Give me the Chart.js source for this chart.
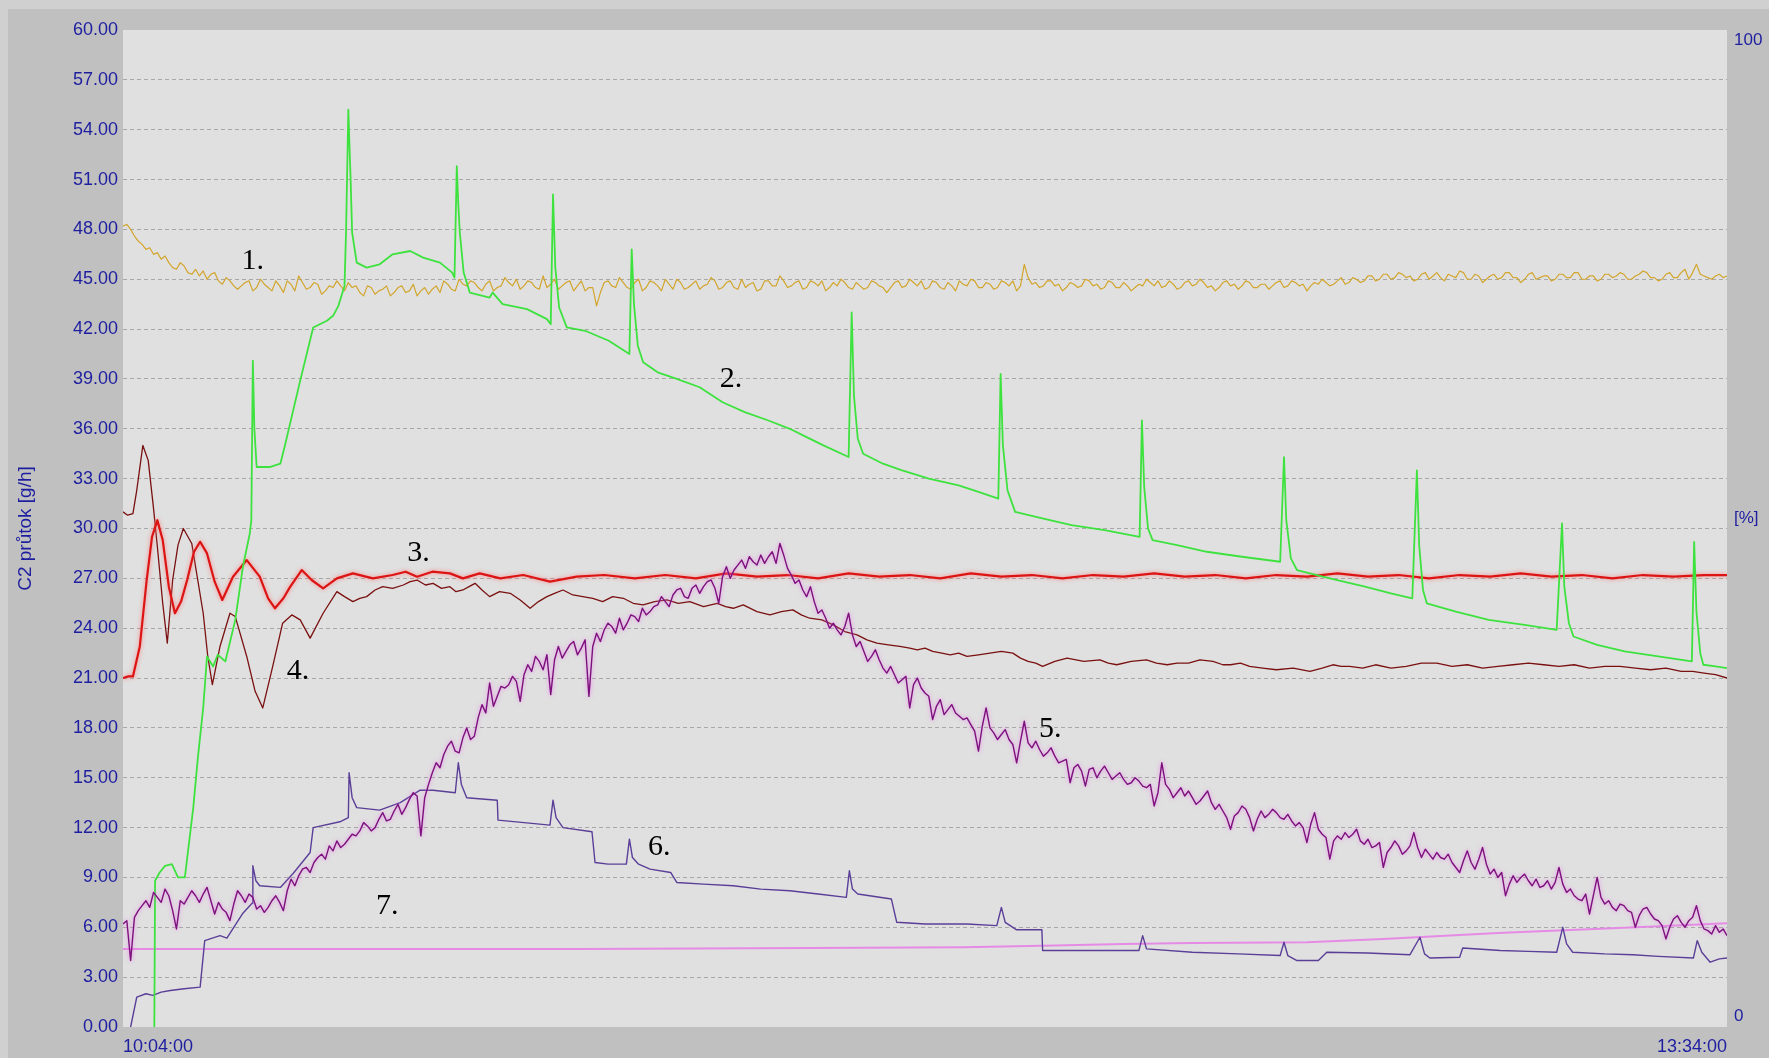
<!DOCTYPE html>
<html>
<head>
<meta charset="utf-8">
<title>C2 průtok</title>
<script src="https://cdn.jsdelivr.net/npm/chart.js@4.4.1/dist/chart.umd.min.js"></script>
<style>
  html, body { margin: 0; padding: 0; background: #c0c0c0; }
  #wrap { width: 1769px; height: 1058px; position: relative; }
</style>
</head>
<body>
<div id="wrap"><canvas id="c"></canvas></div>
<script>
// Time axis: minutes after 10:04:00 (run ends at 13:34:00)
const xTickValues = [0, 210];
const xTickLabels = ['10:04:00', '13:34:00'];

// Right axis [%]
const rightTickValues = [0, 50, 100];
const rightTickLabels = [['0', ''], ['[%]', ''], ['', '100']];

// Evenly sampled channels: one sample on each minute plus one on each half minute
const SAMPLE_STEP = 1;

// 1. (ochre) - samples on the minute
const goldOnMinute = [
  48.2, 48.0, 47.3, 46.8, 46.5, 46.2, 46.0, 45.6, 45.8, 45.3, 45.2, 45.0, 45.4, 44.7, 44.9, 44.4,
  44.8, 44.3, 45.0, 44.5, 44.9, 44.2, 44.7, 45.2, 44.4, 44.8, 44.1, 44.6, 44.9, 44.3, 44.5,
  44.2, 44.6, 44.1, 44.4, 44.0, 44.5, 44.2, 44.7, 44.3, 44.1, 44.6, 44.9, 44.4, 45.0, 44.6,
  44.8, 44.3, 44.9, 44.5, 45.1, 44.6, 44.4, 44.9, 44.5, 45.2, 44.7, 44.4, 44.8, 44.3, 44.9,
  44.5, 43.4, 44.8, 44.6, 45.1, 44.5, 44.8, 44.3, 44.9, 44.6, 45.0, 44.4, 44.8, 44.5, 44.9,
  44.6, 45.1, 44.4, 44.8, 44.5, 45.0, 44.7, 44.3, 44.9, 44.6, 45.2, 44.5, 44.8, 44.4, 44.9,
  44.6, 44.3, 44.8, 45.0, 44.5, 44.8, 44.4, 44.9, 44.6, 44.2, 44.8, 44.5, 45.0, 44.6, 44.4,
  44.9, 44.5, 44.8, 44.3, 44.7, 45.0, 44.5, 44.8, 44.4, 44.9, 44.6, 44.3, 45.9, 44.7, 44.5,
  44.9, 44.6, 44.3, 44.8, 44.5, 45.0, 44.6, 44.4, 44.9, 44.5, 44.8, 44.3, 44.7, 45.0, 44.6,
  44.5, 44.9, 44.4, 44.8, 44.6, 45.0, 44.5, 44.3, 44.8, 44.6, 44.4, 44.9, 44.5, 44.7, 44.4,
  44.8, 44.5, 44.9, 44.6, 44.3, 44.8, 45.0, 44.6, 44.9, 44.7, 45.1, 44.8, 45.2, 44.9, 45.3,
  45.0, 45.4, 45.1, 44.9, 45.3, 45.0, 45.4, 44.9, 45.2, 45.5, 45.0, 45.3, 44.8, 45.2, 45.0,
  45.4, 45.1, 44.8, 45.3, 45.0, 45.2, 44.9, 45.3, 45.1, 45.4, 45.0, 45.2, 44.9, 45.3, 45.1,
  45.4, 45.0, 45.2, 45.5, 45.1, 44.9, 45.3, 45.1, 45.4, 45.0, 45.9, 45.2, 45.0, 45.3, 45.2
];
// 1. (ochre) - samples on the half minute
const goldOnHalf = [
  48.3, 47.6, 47.1, 46.9, 46.6, 46.4, 45.7, 46.0, 45.4, 45.6, 45.5, 45.3, 44.9, 45.1, 44.6,
  44.6, 44.9, 44.5, 44.7, 44.3, 44.6, 44.9, 44.3, 44.8, 44.5, 44.7, 44.3, 44.5, 44.6, 44.8,
  44.6, 44.0, 44.5, 44.3, 44.6, 44.2, 44.6, 44.3, 44.0, 44.5, 44.4, 44.2, 44.7, 44.3, 44.7,
  44.9, 44.5, 44.7, 44.3, 44.6, 44.8, 45.0, 44.6, 44.8, 44.4, 44.5, 45.0, 44.6, 44.9, 44.6,
  44.3, 44.5, 44.2, 44.9, 44.5, 44.8, 44.4, 45.0, 44.5, 44.8, 44.3, 44.7, 45.0, 44.4, 44.7,
  44.4, 44.7, 44.9, 44.5, 44.9, 44.4, 44.5, 44.8, 44.4, 44.9, 44.6, 44.9, 44.6, 44.9, 44.5,
  44.8, 44.9, 44.5, 44.6, 44.8, 44.4, 44.6, 44.5, 44.8, 44.5, 44.5, 44.9, 44.6, 44.8, 44.9,
  44.5, 44.8, 44.4, 44.6, 44.9, 44.6, 44.9, 44.5, 44.7, 44.5, 44.8, 44.9, 44.6, 45.1, 44.8,
  44.6, 44.9, 44.7, 44.5, 44.7, 44.6, 44.9, 44.7, 44.5, 44.8, 44.5, 44.6, 44.5, 44.6, 44.8,
  44.9, 44.6, 44.7, 44.5, 44.9, 44.7, 44.8, 44.6, 44.5, 44.9, 44.7, 44.6, 44.8, 44.5, 44.7,
  44.6, 44.9, 44.6, 44.8, 44.7, 44.6, 44.7, 44.8, 44.7, 45.1, 44.8, 45.0, 44.9, 45.2, 45.0,
  45.3, 45.1, 45.3, 45.2, 45.0, 45.4, 45.2, 45.1, 45.3, 45.1, 45.4, 45.0, 45.2, 45.0, 45.3,
  45.1, 45.4, 45.1, 45.0, 45.4, 45.1, 45.2, 45.0, 45.3, 45.1, 45.4, 45.0, 45.2, 45.0, 45.3,
  45.2, 45.3, 45.0, 45.3, 45.4, 45.1, 45.0, 45.4, 45.1, 45.6, 45.4, 45.3, 45.1, 45.2, 45.1
];

// 5. (purple) - samples on the minute
const purpleOnMinute = [
  6.2, 4.0, 7.0, 7.6, 8.1, 7.5, 7.9, 5.9, 7.4, 8.2,
  7.5, 8.4, 6.8, 7.1, 6.4, 8.2, 7.5, 7.8, 7.3, 7.2,
  7.9, 7.0, 8.9, 9.1, 9.6, 9.9, 10.4, 10.9, 11.2, 11.0,
  11.6, 11.8, 12.1, 12.0, 12.9, 12.5, 13.4, 13.2, 14.1, 11.5,
  14.6, 15.9, 16.4, 17.2, 16.5, 18.0, 17.5, 19.4, 20.7, 19.9,
  20.4, 21.1, 19.6, 21.8, 22.3, 21.5, 20.0, 22.9, 22.6, 23.2,
  22.8, 19.9, 23.7, 23.9, 24.1, 24.6, 24.3, 24.7, 25.2, 25.0,
  25.4, 25.6, 26.0, 26.4, 25.8, 26.6, 26.5, 26.9, 25.5, 27.7,
  27.5, 28.1, 28.3, 27.8, 27.9, 28.6, 29.1, 27.6, 26.7, 26.3,
  26.5, 24.9, 24.6, 24.3, 23.6, 24.9, 22.9, 22.6, 22.3, 22.1,
  21.3, 21.2, 20.9, 19.2, 21.0, 20.1, 18.5, 19.7, 19.1, 18.9,
  18.5, 18.2, 16.6, 19.2, 17.7, 17.6, 17.3, 15.9, 18.4, 16.8,
  16.7, 16.5, 16.3, 16.0, 14.7, 15.8, 14.5, 15.6, 15.4, 15.3,
  15.1, 14.9, 14.7, 14.8, 14.4, 13.3, 15.9, 14.3, 14.1, 13.9,
  13.8, 13.6, 14.2, 13.1, 13.0, 11.9, 12.9, 13.1, 11.8, 13.0,
  12.8, 12.9, 12.5, 12.4, 12.3, 11.1, 12.9, 11.6, 10.1, 11.5,
  11.7, 11.6, 11.2, 11.3, 10.9, 9.6, 10.8, 10.9, 10.6, 11.7,
  10.2, 10.4, 10.5, 10.1, 9.9, 9.3, 10.6, 9.5, 10.8, 9.2,
  9.0, 7.9, 9.1, 9.0, 8.8, 8.9, 8.5, 8.3, 9.6, 8.1,
  7.9, 7.6, 6.8, 9.0, 7.4, 7.2, 7.4, 7.0, 6.0, 7.1,
  6.8, 6.4, 5.3, 6.5, 6.3, 6.4, 7.3, 5.9, 5.6, 5.7,
  5.5
];
// 5. (purple) - samples on the half minute
const purpleOnHalf = [
  6.4, 6.6, 7.3, 7.2, 7.8, 8.3, 7.0, 7.6, 7.8, 7.9,
  8.0, 7.6, 7.5, 6.9, 7.4, 7.9, 8.0, 7.1, 6.9, 7.6,
  7.5, 8.2, 8.5, 9.5, 9.3, 10.2, 10.1, 10.6, 10.8, 11.3,
  11.5, 12.3, 11.8, 12.5, 12.4, 13.0, 12.8, 13.7, 13.9, 13.8,
  15.3, 15.6, 16.9, 16.6, 17.4, 17.3, 18.6, 18.9, 19.3, 20.5,
  20.6, 20.8, 21.2, 21.4, 22.0, 22.4, 22.1, 22.2, 23.0, 22.4,
  23.3, 22.9, 23.2, 24.3, 23.7, 23.9, 24.8, 24.4, 24.8, 25.3,
  25.9, 25.3, 26.3, 25.9, 26.4, 26.1, 26.8, 26.4, 27.1, 27.0,
  27.8, 27.6, 28.0, 28.4, 28.3, 27.9, 28.4, 27.2, 26.9, 25.9,
  25.6, 25.1, 24.0, 23.9, 24.1, 23.6, 23.2, 22.0, 22.7, 21.6,
  21.7, 20.7, 21.1, 20.6, 20.4, 19.9, 19.3, 18.8, 19.4, 18.7,
  18.6, 17.8, 18.1, 18.0, 17.3, 17.9, 17.0, 17.2, 17.1, 17.2,
  16.3, 16.8, 15.9, 16.1, 15.6, 15.4, 15.5, 15.0, 15.7, 14.9,
  15.3, 14.6, 15.0, 14.5, 14.6, 14.1, 14.6, 13.8, 14.4, 14.2,
  13.4, 13.9, 13.5, 13.4, 12.6, 12.7, 13.3, 12.6, 12.5, 12.6,
  13.1, 12.6, 12.8, 12.1, 12.0, 12.2, 11.9, 11.4, 11.2, 11.3,
  11.4, 11.9, 11.0, 10.8, 11.1, 10.5, 11.2, 10.4, 10.9, 10.8,
  10.7, 10.1, 10.2, 10.4, 9.6, 10.0, 9.9, 10.1, 9.8, 9.5,
  9.3, 8.6, 8.7, 9.2, 8.5, 8.4, 8.8, 8.7, 8.6, 8.3,
  7.7, 8.0, 7.9, 7.8, 7.6, 7.0, 7.3, 6.9, 6.7, 7.2,
  6.5, 6.1, 6.0, 6.7, 6.0, 6.6, 6.4, 5.8, 6.1, 5.9
];

// 2. (green)
const greenTimes = [
  4.1, 4.2, 4.8, 5.5, 6.4, 7.2, 8.1, 9.2, 9.8, 10.5, 11.0, 11.8, 12.4, 13.4, 14.7, 15.7, 16.6, 16.8,
  17.0, 17.2, 17.5, 19.2, 20.6, 21.2, 23.2, 24.9, 26.7, 27.5, 28.2, 29.0, 29.2, 29.5, 29.8, 30.0,
  30.6, 31.9, 33.6, 35.3, 37.6, 39.3, 41.5, 43.1, 43.4, 43.7, 43.9, 44.1, 44.6, 45.4, 48.0, 48.4,
  49.7, 52.9, 55.5, 56.0, 56.3, 56.6, 57.1, 58.1, 60.5, 63.6, 66.3, 66.6, 66.9, 67.4, 68.1, 70.0,
  72.5, 75.5, 78.5, 81.4, 84.5, 87.3, 89.5, 91.7, 95.0, 95.4, 95.7, 96.2, 96.9, 99.5, 102.0, 105.5,
  109.4, 112.0, 114.6, 114.9, 115.2, 115.8, 116.8, 120.5, 124.2, 128.5, 133.1, 133.4, 133.7, 134.2,
  134.8, 138.0, 141.9, 146.5, 151.5, 152.0, 152.3, 152.9, 153.7, 158.0, 162.6, 166.0, 168.8, 169.4,
  169.7, 170.2, 170.7, 174.5, 178.8, 183.5, 187.7, 188.4, 188.7, 189.3, 189.9, 193.0, 196.6, 201.0,
  205.4, 205.7, 206.0, 206.5, 206.9, 208.5, 210.0
];
const greenValues = [
  0.0, 8.8, 9.3, 9.7, 9.8, 9.0, 9.0, 13.2, 16.2, 19.2, 22.3, 21.7, 22.4, 22.0, 24.5, 27.7, 29.7, 30.5,
  40.1, 36.0, 33.7, 33.7, 33.9, 35.0, 38.9, 42.1, 42.5, 42.8, 43.4, 44.6, 47.8, 55.2, 51.0, 47.8,
  46.0, 45.7, 45.9, 46.5, 46.7, 46.3, 46.0, 45.4, 45.1, 51.8, 49.5, 47.8, 45.4, 44.2, 43.9, 44.2,
  43.5, 43.2, 42.6, 42.3, 50.1, 45.7, 43.3, 42.1, 41.9, 41.3, 40.5, 46.8, 43.5, 41.0, 40.0, 39.4,
  39.0, 38.5, 37.6, 37.0, 36.5, 36.0, 35.5, 35.0, 34.3, 43.0, 38.0, 35.4, 34.5, 33.9, 33.5, 33.0,
  32.6, 32.2, 31.8, 39.3, 35.0, 32.3, 31.0, 30.6, 30.2, 29.9, 29.5, 36.5, 32.5, 30.0,
  29.3, 29.0, 28.6, 28.3, 28.0, 34.3, 30.5, 28.2, 27.5, 27.0, 26.5, 26.1, 25.8, 33.5,
  29.0, 26.3, 25.5, 25.0, 24.5, 24.2, 23.9, 30.3, 26.5, 24.3, 23.5, 23.0, 22.6, 22.3,
  22.0, 29.2, 25.0, 22.5, 21.8, 21.7, 21.6
];

// 3. (red)
const redTimes = [
  0, 0.7, 1.3, 2.2, 3.1, 3.8, 4.5, 5.2, 6.0, 6.8, 7.6, 8.4, 9.3, 10.1, 11.0, 12.0, 13.0, 14.4, 16.2,
  17.9, 19.0, 19.9, 21.0, 21.9, 23.4, 24.7, 26.2, 28.0, 30.1, 32.7, 35.3, 37.0, 38.5, 40.5, 42.8,
  44.5, 46.7, 49.4, 52.4, 55.9, 59.4, 63, 67, 71, 75, 79, 83, 87, 91, 95, 99, 103, 107, 111, 115,
  119, 123, 127, 131, 135, 139, 143, 147, 151, 155, 159, 163, 167, 171, 175, 179, 183, 187, 191,
  195, 199, 203, 207, 210
];
const redValues = [
  21.0, 21.1, 21.1, 22.9, 26.9, 29.5, 30.5, 29.3, 26.5, 24.9, 25.6, 26.9, 28.6, 29.2, 28.5, 26.8, 25.7, 27.1, 28.1,
  27.1, 25.8, 25.2, 25.8, 26.5, 27.5, 26.9, 26.4, 27.0, 27.3, 27.0, 27.2, 27.4, 27.1, 27.4, 27.3,
  27.0, 27.3, 27.0, 27.2, 26.8, 27.1, 27.2, 27.0, 27.2, 27.0, 27.3, 27.1, 27.2, 27.0, 27.3, 27.1, 27.2, 27.0, 27.3, 27.1,
  27.2, 27.0, 27.2, 27.1, 27.3, 27.1, 27.2, 27.0, 27.2, 27.1, 27.3, 27.1, 27.2, 27.0, 27.2, 27.1, 27.3, 27.1, 27.2,
  27.0, 27.2, 27.1, 27.2, 27.2
];

// 4. (maroon)
const maroonTimes = [
  0, 0.6, 1.3, 1.8, 2.6, 3.3, 4.0, 4.5, 5.2, 5.8, 6.5, 7.2, 7.9, 9.0, 10.5, 11.1, 11.7, 12.7, 14.0,
  14.7, 16.2, 17.3, 18.3, 19.6, 20.9, 22.1, 23.2, 24.5, 26.2, 28.0, 29.0, 30.1, 31.0, 31.9, 33.0, 34.0,
  35.3, 36.7, 37.6, 38.5, 39.6, 40.6, 41.7, 42.8, 43.6, 44.5, 45.3, 46.1, 47.0, 48.0, 49.3, 50.7,
  52.0, 53.3, 54.4, 55.5, 56.5, 57.6, 58.9, 60.2, 61.5, 62.8, 64.1, 65.5, 66.8, 68.1, 69.6, 71.2,
  72.7, 74.2, 76.0, 77.8, 78.9, 79.9, 81.2, 83.0, 84.7, 86.2, 87.7, 88.8, 89.9, 91.5, 93.0, 94.5,
  96.1, 97.4, 98.7, 100.2, 101.7, 103, 104, 105, 106, 107.2, 108.3, 109.4, 110.5, 112, 113.5, 115,
  116.5, 117.5, 118.5, 119.5, 120.4, 122, 123.6, 125.8, 127.9, 129, 130.1, 132, 134.0, 135.3, 136.7,
  138, 139.5, 141, 142.7, 144, 145, 146.3, 147.5, 149.2, 151.0, 153.2, 155.4, 157, 158.4, 159.5,
  160.6, 162.3, 164, 166, 168, 170, 172, 174, 176, 178, 180, 182, 184, 186, 188, 190, 192, 194,
  196, 198, 200, 202, 204, 205.5, 207, 208.5, 210
];
const maroonValues = [
  31.0, 30.8, 30.9, 32.3, 35.0, 34.1, 31.2, 28.9, 25.5, 23.1, 26.9, 29.0, 30.0, 29.1, 24.9, 22.3, 20.6, 22.9, 24.9,
  24.7, 22.3, 20.2, 19.2, 21.7, 24.3, 24.8, 24.5, 23.4, 24.9, 26.2, 25.9, 25.6, 25.8, 25.9, 26.3, 26.5,
  26.4, 26.6, 26.8, 26.9, 26.6, 26.7, 26.4, 26.5, 26.2, 26.3, 26.5, 26.7, 26.3, 25.9, 26.2, 26.1,
  25.7, 25.2, 25.6, 25.9, 26.1, 26.3, 26.0, 25.9, 25.8, 25.6, 25.9, 25.8, 25.5, 25.4, 25.6, 25.7,
  25.5, 25.6, 25.3, 25.5, 25.3, 25.2, 25.4, 25.0, 24.8, 25.0, 25.1, 24.8, 24.6, 24.5, 24.2, 23.8,
  23.6, 23.3, 23.1, 23.0, 22.9, 22.8, 22.7, 22.8, 22.6, 22.5, 22.4, 22.5, 22.3, 22.4, 22.5, 22.6,
  22.5, 22.2, 22.0, 21.9, 21.7, 22.0, 22.2, 22.0, 22.1, 21.9, 21.8, 22.0, 22.1, 21.9, 21.8,
  21.9, 21.9, 22.1, 22.0, 21.8, 21.8, 21.9, 21.7, 21.6, 21.5, 21.6, 21.4, 21.6, 21.8, 21.7,
  21.7, 21.6, 21.8, 21.6, 21.7, 21.9, 21.9, 21.7, 21.8, 21.6, 21.7, 21.8, 21.9, 21.8, 21.7, 21.8, 21.6, 21.7,
  21.7, 21.6, 21.5, 21.6, 21.4, 21.4, 21.3, 21.2, 21.0
];

// 6. (slate)
const slateTimes = [
  1.0, 1.8, 3.0, 3.9, 5.0, 6.2, 8.0, 10.1, 10.7, 12.7, 13.6, 15.7, 16.9, 17.0, 17.4, 17.9, 20.6, 22.3,
  24.5, 24.9, 28.4, 29.5, 29.6, 30.0, 30.6, 33.6, 36.3, 38.9, 40.6, 43.5, 43.9, 44.3, 45.0, 49.0,
  49.1, 52.5, 55.9, 56.3, 56.7, 57.6, 61.4, 61.8, 63.5, 65.9, 66.3, 66.7, 67.5, 69.0, 71.7, 72.5,
  76, 79.9, 83.5, 87.3, 91, 94.7, 95.1, 95.5, 96.2, 100.6, 101.3, 105, 110.5, 114.4, 115.0, 115.5,
  117.0, 120.3, 120.4, 126, 133.0, 133.5, 134.0, 140, 146, 151.5, 152.0, 152.5, 153.7, 156.5, 157.6,
  162.9, 168.5, 169.8, 170.4, 171.1, 175.0, 175.4, 180.3, 184, 187.7, 188.5, 189.0, 189.8, 194,
  197.7, 201, 205.6, 206.1, 206.7, 207.8, 209, 210
];
const slateValues = [
  0.0, 1.8, 2.0, 1.9, 2.1, 2.2, 2.3, 2.4, 5.2, 5.5, 5.35, 6.85, 7.45, 9.7, 8.8, 8.5, 8.4, 9.25,
  10.5, 12.0, 12.35, 12.6, 15.3, 13.8, 13.2, 13.05, 13.5, 14.25, 14.25, 14.1, 15.9, 14.6, 13.8, 13.65,
  12.45, 12.3, 12.15, 13.65, 12.6, 12.0, 11.75, 9.9, 9.8, 9.8, 11.3, 10.2, 9.8, 9.5, 9.3, 8.7,
  8.6, 8.5, 8.3, 8.2, 8.0, 7.8, 9.4, 8.3, 8.0, 7.7, 6.3, 6.2, 6.2, 6.1, 7.2, 6.3,
  5.85, 5.85, 4.6, 4.6, 4.6, 5.5, 4.7, 4.5, 4.4, 4.3, 5.1, 4.3, 4.0, 4.0, 4.5,
  4.45, 4.35, 5.4, 4.4, 4.15, 4.2, 4.75, 4.6, 4.55, 4.5, 6.0, 5.0, 4.5, 4.4,
  4.35, 4.25, 4.15, 5.2, 4.5, 3.9, 4.1, 4.15
];

// 7. (pink)
const pinkTimes = [0, 30, 60, 90, 110, 122, 131, 140, 155, 165, 180, 195, 210];
const pinkValues = [4.7, 4.7, 4.7, 4.75, 4.8, 4.9, 5.0, 5.05, 5.1, 5.3, 5.65, 5.95, 6.25];

// Numbered curve labels
const noteLabels = ['1.', '2.', '3.', '4.', '5.', '6.', '7.'];
const noteTimes = [17.0, 79.6, 38.7, 22.9, 121.4, 70.2, 34.6];
const noteValues = [46.1, 39.0, 28.5, 21.4, 17.9, 10.8, 7.3];

const AXIS_BLUE = '#1e1ea0';
const AXIS_FONT = { family: '"Liberation Sans", Arial, sans-serif', size: 18 };

// Merge the on-minute and half-minute samples into one time-ordered trace
function interleave(onMinute, onHalf) {
  const out = [];
  onMinute.forEach((v, i) => {
    out.push({ x: i * SAMPLE_STEP, y: v });
    if (i < onHalf.length) out.push({ x: (i + 0.5) * SAMPLE_STEP, y: onHalf[i] });
  });
  return out;
}
function paired(times, values) {
  return times.map((t, i) => ({ x: t, y: values[i] }));
}

const datasets = [
  { label: '5.', data: interleave(purpleOnMinute, purpleOnHalf), borderColor: '#7c107c', borderWidth: 1.4, glowColor: 'rgba(235,120,235,0.9)' },
  { label: '2.', data: paired(greenTimes, greenValues), borderColor: '#3ee23e', borderWidth: 1.8 },
  { label: '3.', data: paired(redTimes, redValues), borderColor: '#dc1414', borderWidth: 2.2, glowColor: 'rgba(255,120,120,0.9)' },
  { label: '4.', data: paired(maroonTimes, maroonValues), borderColor: '#7a1010', borderWidth: 1.3 },
  { label: '6.', data: paired(slateTimes, slateValues), borderColor: '#5a3e98', borderWidth: 1.4 },
  { label: '1.', data: interleave(goldOnMinute, goldOnHalf), borderColor: '#d2a52c', borderWidth: 1.2 },
  { label: '7.', data: paired(pinkTimes, pinkValues), borderColor: '#e58be5', borderWidth: 2 }
];

// Window-style frame and plot background
const backdrop = {
  id: 'backdrop',
  beforeDraw(chart) {
    const { ctx, width, height, chartArea: a } = chart;
    ctx.save();
    ctx.fillStyle = '#c0c0c0';
    ctx.fillRect(0, 0, width, height);
    ctx.fillStyle = '#d0d0d0';
    ctx.fillRect(0, 0, width, 9);
    ctx.fillRect(0, 0, 8, height);
    ctx.fillStyle = '#e0e0e0';
    ctx.fillRect(a.left, a.top, a.right - a.left, a.bottom - a.top);
    ctx.restore();
  }
};

// Soft halo around selected traces
const lineGlow = {
  id: 'lineGlow',
  beforeDatasetDraw(chart, args) {
    const ds = chart.data.datasets[args.index];
    if (!ds.glowColor) return;
    chart.ctx.save();
    chart.ctx.shadowColor = ds.glowColor;
    chart.ctx.shadowBlur = 4;
  },
  afterDatasetDraw(chart, args) {
    const ds = chart.data.datasets[args.index];
    if (ds.glowColor) chart.ctx.restore();
  }
};

// Curve numbers written next to the traces
const curveNotes = {
  id: 'curveNotes',
  afterDatasetsDraw(chart) {
    const { ctx, scales: { x, y } } = chart;
    ctx.save();
    ctx.font = '30px "Liberation Serif", "Times New Roman", serif';
    ctx.fillStyle = '#000';
    ctx.textAlign = 'center';
    ctx.textBaseline = 'middle';
    noteLabels.forEach((t, i) => {
      ctx.fillText(t, x.getPixelForValue(noteTimes[i]), y.getPixelForValue(noteValues[i]));
    });
    ctx.restore();
  }
};

new Chart(document.getElementById('c'), {
  type: 'line',
  data: { datasets },
  options: {
    responsive: true,
    maintainAspectRatio: false,
    animation: false,
    events: [],
    layout: { padding: { top: 30, left: 0, right: 0, bottom: 0 } },
    plugins: { legend: { display: false }, tooltip: { enabled: false }, title: { display: false } },
    elements: { point: { radius: 0 }, line: { tension: 0, borderJoinStyle: 'round', fill: false } },
    scales: {
      x: {
        type: 'linear', min: 0, max: 210,
        afterBuildTicks: s => { s.ticks = xTickValues.map(v => ({ value: v })); },
        ticks: {
          align: 'inner', padding: 9, maxRotation: 0, autoSkip: false,
          color: AXIS_BLUE, font: AXIS_FONT,
          callback: (v, i) => xTickLabels[i]
        },
        grid: { display: false, drawTicks: false },
        border: { display: false },
        afterFit: s => { s.height = 31; }
      },
      y: {
        position: 'left', min: 0, max: 60,
        ticks: {
          stepSize: 3, padding: 5, autoSkip: false,
          color: AXIS_BLUE, font: AXIS_FONT,
          callback: v => v.toFixed(2)
        },
        grid: {
          drawTicks: false, lineWidth: 1,
          color: c => (c.tick && (c.tick.value === 0 || c.tick.value === 60)) ? 'rgba(0,0,0,0)' : 'rgba(150,150,150,0.75)'
        },
        border: { display: false, dash: [4, 3] },
        title: {
          display: true, text: 'C2 průtok [g/h]', color: AXIS_BLUE,
          font: { family: '"Liberation Sans", Arial, sans-serif', size: 19 },
          padding: { top: 14, bottom: 0 }
        },
        afterFit: s => { s.width = 123; }
      },
      y2: {
        position: 'right', min: 0, max: 100,
        afterBuildTicks: s => { s.ticks = rightTickValues.map(v => ({ value: v })); },
        ticks: {
          padding: 7, autoSkip: false,
          color: AXIS_BLUE, font: { family: '"Liberation Sans", Arial, sans-serif', size: 17 },
          callback: (v, i) => rightTickLabels[i]
        },
        grid: { display: false, drawTicks: false },
        border: { display: false },
        afterFit: s => { s.width = 42; }
      }
    }
  },
  plugins: [backdrop, lineGlow, curveNotes]
});
</script>
</body>
</html>
